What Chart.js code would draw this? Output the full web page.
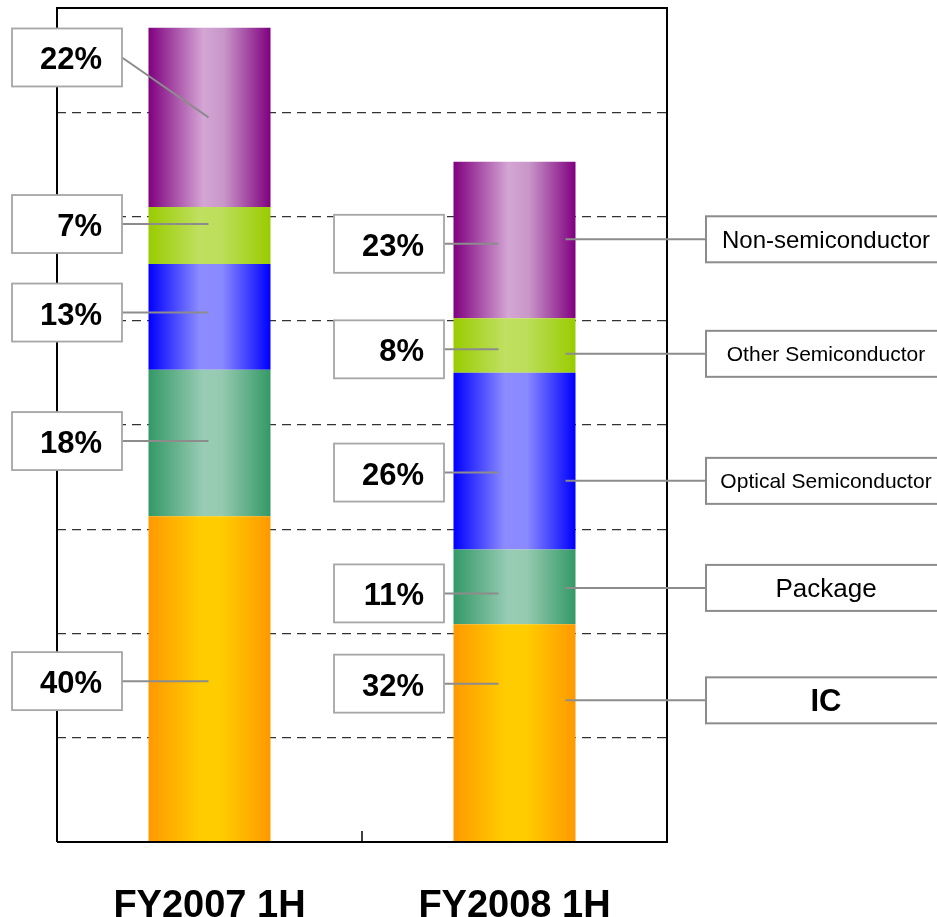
<!DOCTYPE html>
<html>
<head>
<meta charset="utf-8">
<title>Sales composition FY2007 1H / FY2008 1H</title>
<script src="https://cdn.jsdelivr.net/npm/chart.js@4/dist/chart.umd.min.js"></script>
<style>
  html, body { margin: 0; padding: 0; background: #ffffff; }
  canvas { display: block; }
</style>
</head>
<body>
<canvas id="chart" width="937" height="917"></canvas>
<script>
// Categories and segment names (stacked bottom to top)
const categories = ['FY2007 1H', 'FY2008 1H'];
const segmentNames = ['IC', 'Package', 'Optical Semiconductor', 'Other Semiconductor', 'Non-semiconductor'];

// Bar totals (unlabelled value axis, 0-160 in steps of 20)
const totals = [156.2, 130.5];
const axisMax = 160;
const axisStep = 20;

// Share of each segment per period, in percent
const icShare = [40, 32];
const packageShare = [18, 11];
const opticalShare = [13, 26];
const otherShare = [7, 8];
const nonSemiShare = [22, 23];

const shares = [icShare, packageShare, opticalShare, otherShare, nonSemiShare];

const FONT = '"Liberation Sans", Arial, Helvetica, sans-serif';

// Horizontal "cylinder" shading for each segment: [offset, colour]
const shading = [
  [[0, '#FF9900'], [0.42, '#FFCC00'], [0.6, '#FFCC00'], [1, '#FF9900']],
  [[0, '#339966'], [0.45, '#99CCB4'], [0.6, '#96CAB0'], [1, '#339966']],
  [[0, '#0000FF'], [0.42, '#8C8CFF'], [0.6, '#8A8AFF'], [1, '#0000FF']],
  [[0, '#99CC00'], [0.42, '#BFE060'], [0.6, '#BCDE5A'], [1, '#99CC00']],
  [[0, '#800080'], [0.45, '#D4A6D4'], [0.62, '#C896C8'], [1, '#800080']]
];
const flatColours = ['#FFB300', '#66B28C', '#5A5AFF', '#ADD630', '#AA55AA'];

const CAT_PCT = 1.0;
const BAR_PCT = 0.4;

function barShade(ctx) {
  const chart = ctx.chart;
  const xs = chart.scales.x;
  if (!chart.chartArea || !xs) return flatColours[ctx.datasetIndex];
  const cx = xs.getPixelForValue(ctx.dataIndex);
  const w = xs.width / categories.length * CAT_PCT * BAR_PCT;
  const g = chart.ctx.createLinearGradient(cx - w / 2, 0, cx + w / 2, 0);
  shading[ctx.datasetIndex].forEach(([o, c]) => g.addColorStop(o, c));
  return g;
}

// Annotation layout: percentage boxes left of bars, name boxes right of the second bar
const pctLayout = {
  boxLeft: [12, 334], boxW: 110, boxH: 58, textInset: 20,
  lineEndDx: [-1, -16],
  dy: [[2.3, -2, -4.3, -11.4, -59.9], [-49.2, 6.5, 11.5, 3.9, 3.8]],
  slanted: [[false, false, false, false, true], [false, false, false, false, false]]
};
const nameLayout = {
  barIndex: 1, lineStartDx: 51, boxLeft: 706, boxW: 240, boxH: 46,
  dy: [-32.5, 1, 19.8, 8.4, -0.7],
  fonts: ['bold 31px', '26px', '21px', '21px', '24px']
};

const annotate = {
  id: 'annotate',
  afterDatasetsDraw(chart) {
    const c = chart.ctx;
    const area = chart.chartArea;
    const xs = chart.scales.x;
    c.save();

    // plot frame
    c.strokeStyle = '#000000';
    c.lineWidth = 2;
    c.beginPath();
    c.moveTo(area.left, area.bottom);
    c.lineTo(area.left, area.top);
    c.lineTo(area.right, area.top);
    c.lineTo(area.right, area.bottom);
    c.lineTo(area.left, area.bottom);
    c.stroke();

    // category separator tick
    const sep = (xs.getPixelForValue(0) + xs.getPixelForValue(1)) / 2;
    c.lineWidth = 1.5;
    c.beginPath();
    c.moveTo(sep, area.bottom);
    c.lineTo(sep, area.bottom - 11);
    c.stroke();

    // percentage boxes with leader lines
    for (let b = 0; b < categories.length; b++) {
      for (let d = 0; d < segmentNames.length; d++) {
        const el = chart.getDatasetMeta(d).data[b];
        const segCy = (el.y + el.base) / 2;
        const cy = segCy + pctLayout.dy[b][d];
        const left = pctLayout.boxLeft[b];
        const right = left + pctLayout.boxW;
        const endX = el.x + pctLayout.lineEndDx[b];
        const endY = pctLayout.slanted[b][d] ? segCy : cy;

        c.strokeStyle = '#8C8C8C';
        c.lineWidth = 2;
        c.beginPath();
        c.moveTo(right, cy);
        c.lineTo(endX, endY);
        c.stroke();

        c.fillStyle = '#FFFFFF';
        c.fillRect(left, cy - pctLayout.boxH / 2, pctLayout.boxW, pctLayout.boxH);
        c.strokeStyle = '#A6A6A6';
        c.lineWidth = 1.8;
        c.strokeRect(left, cy - pctLayout.boxH / 2, pctLayout.boxW, pctLayout.boxH);

        c.fillStyle = '#000000';
        c.font = 'bold 31px ' + FONT;
        c.textAlign = 'right';
        c.textBaseline = 'alphabetic';
        c.fillText(shares[d][b] + '%', right - pctLayout.textInset, cy + 12);
      }
    }

    // segment name boxes
    const nb = nameLayout.barIndex;
    for (let d = 0; d < segmentNames.length; d++) {
      const el = chart.getDatasetMeta(d).data[nb];
      const cy = (el.y + el.base) / 2 + nameLayout.dy[d];
      const startX = el.x + nameLayout.lineStartDx;

      c.strokeStyle = '#8C8C8C';
      c.lineWidth = 2;
      c.beginPath();
      c.moveTo(startX, cy);
      c.lineTo(nameLayout.boxLeft, cy);
      c.stroke();

      c.fillStyle = '#FFFFFF';
      c.fillRect(nameLayout.boxLeft, cy - nameLayout.boxH / 2, nameLayout.boxW, nameLayout.boxH);
      c.strokeStyle = '#8C8C8C';
      c.lineWidth = 2;
      c.strokeRect(nameLayout.boxLeft, cy - nameLayout.boxH / 2, nameLayout.boxW, nameLayout.boxH);

      const size = parseFloat(nameLayout.fonts[d].match(/(\d+)px/)[1]);
      c.fillStyle = '#000000';
      c.font = nameLayout.fonts[d] + ' ' + FONT;
      c.textAlign = 'center';
      c.textBaseline = 'alphabetic';
      c.fillText(segmentNames[d], 826, cy + size * 0.36);
    }

    c.restore();
  }
};

new Chart(document.getElementById('chart'), {
  type: 'bar',
  data: {
    labels: categories,
    datasets: segmentNames.map((name, d) => ({
      label: name,
      data: totals.map((t, i) => t * shares[d][i] / 100),
      backgroundColor: barShade,
      borderWidth: 0,
      categoryPercentage: CAT_PCT,
      barPercentage: BAR_PCT
    }))
  },
  options: {
    responsive: false,
    animation: false,
    layout: { padding: { left: 57, right: 270, top: 8, bottom: 0 } },
    plugins: {
      legend: { display: false },
      tooltip: { enabled: false }
    },
    scales: {
      x: {
        stacked: true,
        grid: { display: false },
        border: { display: false },
        ticks: {
          color: '#000000',
          font: { family: FONT, size: 38, weight: 'bold' },
          padding: 34,
          maxRotation: 0
        },
        afterFit(scale) { scale.height = 75; }
      },
      y: {
        stacked: true,
        min: 0,
        max: axisMax,
        ticks: { display: false, stepSize: axisStep },
        border: { display: false, dash: [9, 6] },
        grid: {
          drawTicks: false,
          lineWidth: 1.3,
          color: (ctx) => (ctx.tick && (ctx.tick.value === 0 || ctx.tick.value === axisMax)) ? 'rgba(0,0,0,0)' : '#333333'
        },
        afterFit(scale) { scale.width = 0; }
      }
    }
  },
  plugins: [annotate]
});
</script>
</body>
</html>
